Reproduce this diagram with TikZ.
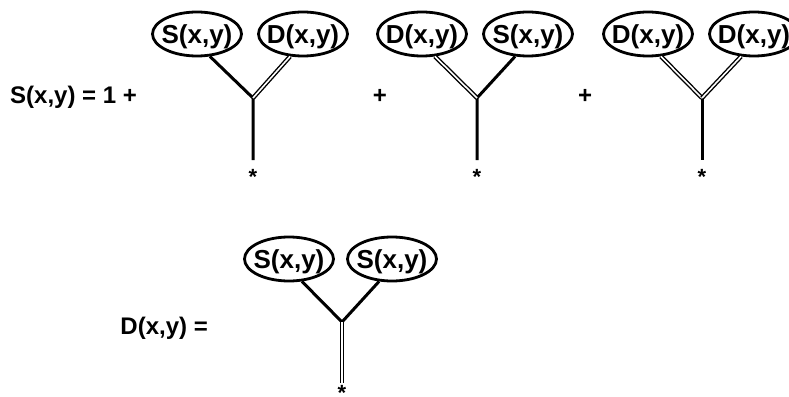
\documentclass[tikz,border=0pt]{standalone}
\usepackage{fontspec}
\setmainfont{Liberation Sans}
\usetikzlibrary{shapes.geometric}
\newcommand{\etxt}[1]{\raisebox{-0.36em}[0pt][0pt]{\makebox[0pt]{#1}}}
\tikzset{
  term/.style={ellipse, draw, line width=2.8pt, minimum width=89pt, minimum height=44pt, inner sep=0pt,
    font=\fontsize{26}{26}\selectfont\bfseries},
  lbl/.style={font=\fontsize{24}{24}\selectfont\bfseries, inner sep=0pt},
  single/.style={line width=3pt},
  dbl/.style={line width=1.4pt, double=white, double distance=1.6pt},
  star/.style={font=\fontsize{22}{22}\selectfont\bfseries, inner sep=0pt}
}
\begin{document}
\begin{tikzpicture}[x=1pt,y=-1pt]
\useasboundingbox (0,0) rectangle (789,396);
% left labels
\node[lbl, anchor=west] (Seq) at (10,97) {S(x,y) = 1 +};
\node[lbl] (p1) at (380,96) {+};
\node[lbl] (p2) at (585,96) {+};
% tree 1
\node[term] (a1) at (197,34) {\etxt{S(x,y)}};
\node[term] (a2) at (303,34) {\etxt{D(x,y)}};
\coordinate (j1) at (253,98);
\coordinate (r1) at (253,160);
\node[star] (s1) at (253,177) {*};
\draw[single] (a1.-60) -- (j1) -- (r1);
\draw[dbl] (a2.-120) -- (j1);
% tree 2
\node[term] (b1) at (422,34) {\etxt{D(x,y)}};
\node[term] (b2) at (528,34) {\etxt{S(x,y)}};
\coordinate (j2) at (477,98);
\coordinate (r2) at (477,160);
\node[star] (s2) at (477,177) {*};
\draw[single] (b2.-120) -- (j2) -- (r2);
\draw[dbl] (b1.-60) -- (j2);
% tree 3
\node[term] (c1) at (648,34) {\etxt{D(x,y)}};
\node[term] (c2) at (754,34) {\etxt{D(x,y)}};
\coordinate (j3) at (702,98);
\coordinate (r3) at (702,160);
\node[star] (s3) at (702,177) {*};
\draw[single] (j3) -- (r3);
\draw[dbl] (c1.-60) -- (j3);
\draw[dbl] (c2.-120) -- (j3);
% bottom
\node[lbl, anchor=east] (Deq) at (208,328) {D(x,y) =};
\node[term] (d1) at (289,259) {\etxt{S(x,y)}};
\node[term] (d2) at (392,259) {\etxt{S(x,y)}};
\coordinate (j4) at (342,322);
\coordinate (r4) at (342,383);
\node[star] (s4) at (342,393) {*};
\draw[single] (d1.-60) -- (j4) -- (d2.-120);
\draw[dbl] (j4) -- (r4);
\end{tikzpicture}
\end{document}
